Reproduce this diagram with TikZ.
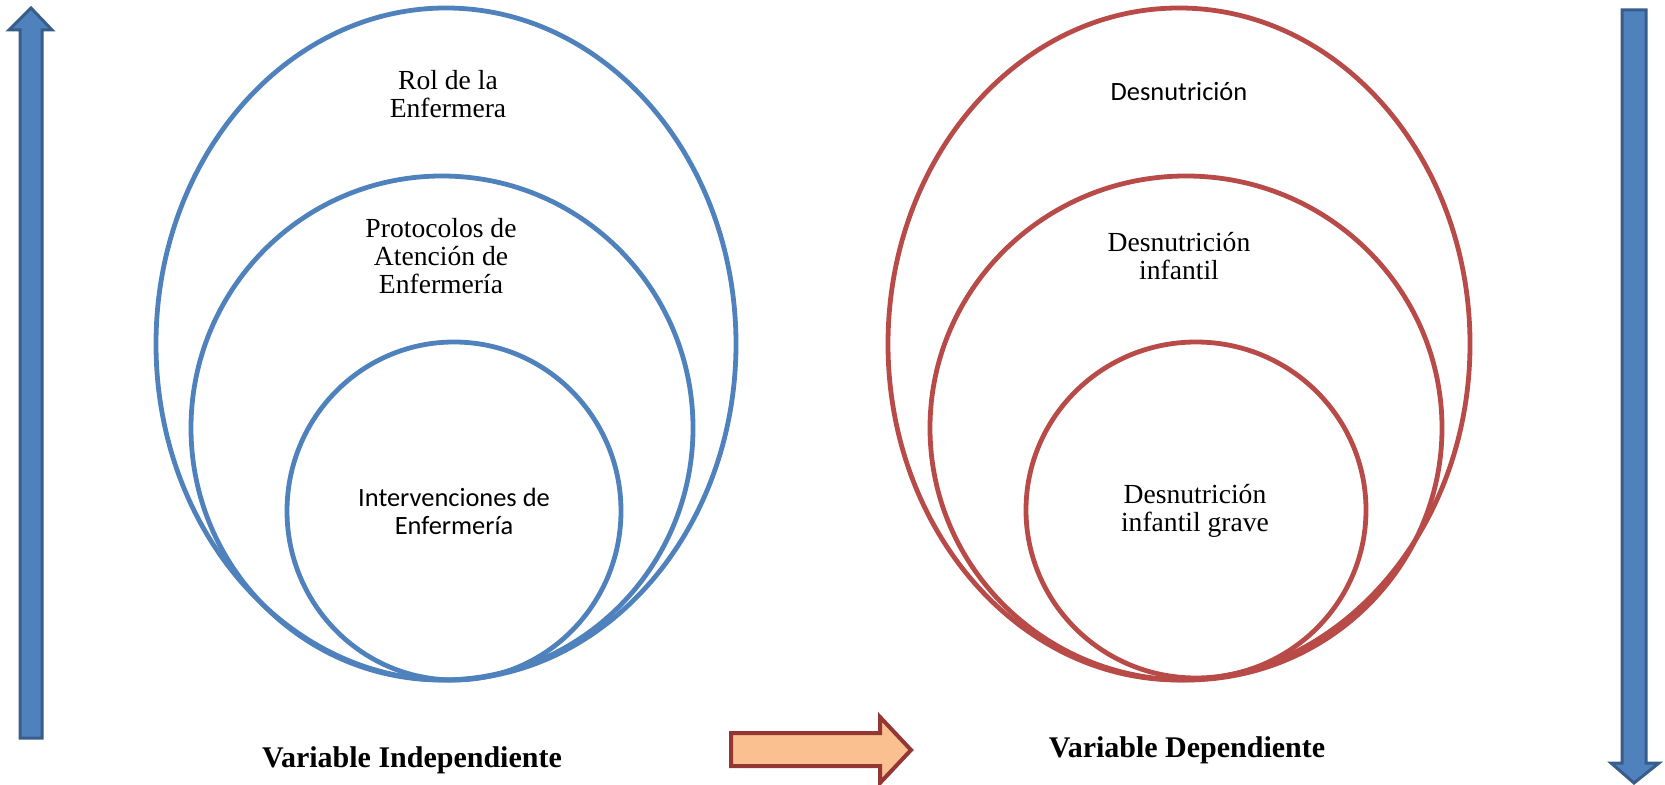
\documentclass[tikz,border=0pt]{standalone}
\usepackage{fontspec}
\setmainfont{Liberation Serif}
\newfontfamily\gillfont{Carlito}
\definecolor{azul}{HTML}{4F81BD}
\definecolor{azulosc}{HTML}{385D8A}
\definecolor{rojo}{HTML}{B84B48}
\definecolor{naranja}{HTML}{FAC090}
\definecolor{granate}{HTML}{943634}
\begin{document}
\begin{tikzpicture}[x=0.5pt,y=-0.5pt,
    circblue/.style={draw=azul,line width=2.4pt},
    circred/.style={draw=rojo,line width=2.4pt},
    txt/.style={align=center,font=\fontsize{13.8}{14}\selectfont,inner sep=0pt},
    sanstxt/.style={txt,font=\gillfont\fontsize{13.2}{14}\selectfont},
    title/.style={font=\bfseries\fontsize{15}{17}\selectfont,inner sep=0pt}]
      \useasboundingbox (0,0) rectangle (1665,785);
      % vertical arrows
      \draw[azulosc,fill=azul,line width=1.5pt]
        (20,738) -- (20,30) -- (9,30) -- (31,8) -- (52,30) -- (42,30) -- (42,738) -- cycle;
      \draw[azulosc,fill=azul,line width=1.5pt]
        (1622,10) -- (1622,763) -- (1611,763) -- (1634,783) -- (1659,763) -- (1646,763) -- (1646,10) -- cycle;
      % horizontal arrow
      \draw[granate,fill=naranja,line width=2pt,line join=miter]
        (731,733) -- (880,733) -- (880,717) -- (911,750) -- (880,783) -- (880,766) -- (731,766) -- cycle;
      % left ellipses
      \begin{scope}[circblue]
        \draw (446,344) ellipse [x radius=290,y radius=336];
        \draw (442,428) ellipse [x radius=251,y radius=252];
        \draw (454,511) ellipse [x radius=167,y radius=169];
      \end{scope}
      % right ellipses
      \begin{scope}[circred]
        \draw (1179,344) ellipse [x radius=291,y radius=336];
        \draw (1186,428) ellipse [x radius=256,y radius=252];
        \draw (1196,510) ellipse [x radius=170,y radius=168];
      \end{scope}
      % labels
      \node[txt] (rol) at (448,94) {Rol de la\\Enfermera};
      \node[txt] (prot) at (441,256) {Protocolos de\\Atención de\\Enfermería};
      \node[sanstxt] (interv) at (454,511) {Intervenciones de\\Enfermería};
      \node[sanstxt] (desn) at (1179,92) {Desnutrición};
      \node[txt] (desninf) at (1179,256) {Desnutrición\\infantil};
      \node[txt] (desngrave) at (1195,511) {Desnutrición\\infantil grave};
      \node[title] (indep) at (412,760) {Variable Independiente};
      \node[title] (dep) at (1187,750) {Variable Dependiente};
\end{tikzpicture}
\end{document}
